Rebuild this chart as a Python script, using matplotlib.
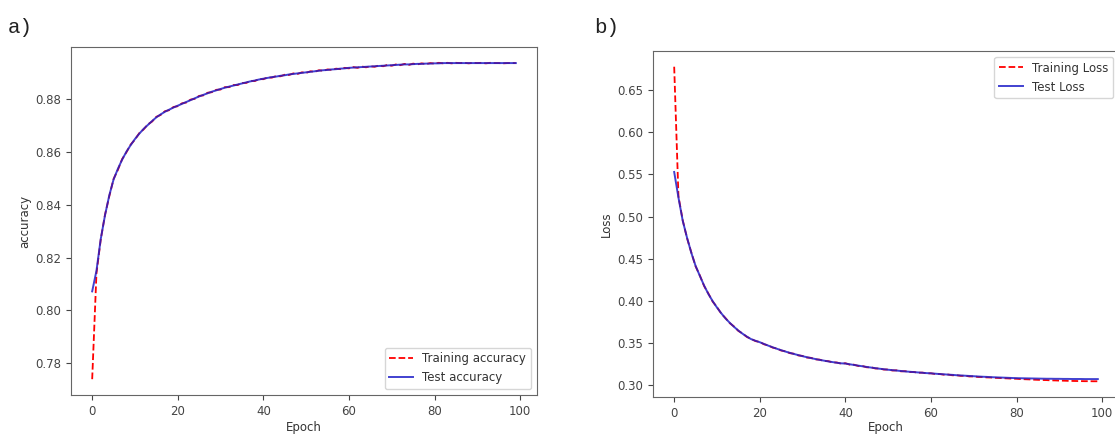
import matplotlib.pyplot as plt

# accuracy per epoch
train_acc = [0.7740, 0.8140, 0.8268, 0.8362, 0.8432, 0.8497, 0.8531, 0.8572, 0.8598, 0.8627,
             0.8646, 0.8670, 0.8684, 0.8703, 0.8714, 0.8732, 0.8739, 0.8753, 0.8757, 0.8769,
             0.8772, 0.8783, 0.8786, 0.8797, 0.8800, 0.8811, 0.8813, 0.8823, 0.8825, 0.8834,
             0.8835, 0.8844, 0.8844, 0.8852, 0.8852, 0.8860, 0.8860, 0.8868, 0.8867, 0.8875,
             0.8874, 0.8881, 0.8880, 0.8886, 0.8885, 0.8891, 0.8890, 0.8896, 0.8894, 0.8900,
             0.8898, 0.8904, 0.8902, 0.8908, 0.8906, 0.8911, 0.8909, 0.8914, 0.8912, 0.8917,
             0.8915, 0.8920, 0.8917, 0.8922, 0.8919, 0.8923, 0.8921, 0.8926, 0.8923, 0.8928,
             0.8925, 0.8930, 0.8927, 0.8932, 0.8928, 0.8933, 0.8930, 0.8934, 0.8931, 0.8935,
             0.8933, 0.8936, 0.8934, 0.8936, 0.8934, 0.8936, 0.8935, 0.8936, 0.8934, 0.8936,
             0.8935, 0.8936, 0.8934, 0.8936, 0.8935, 0.8935, 0.8934, 0.8935, 0.8935, 0.8935]
test_acc = [0.8072, 0.8150, 0.8270, 0.8360, 0.8435, 0.8495, 0.8535, 0.8570, 0.8600, 0.8625,
            0.8648, 0.8668, 0.8686, 0.8701, 0.8716, 0.8730, 0.8741, 0.8751, 0.8759, 0.8767,
            0.8774, 0.8781, 0.8788, 0.8795, 0.8802, 0.8809, 0.8815, 0.8821, 0.8827, 0.8832,
            0.8837, 0.8842, 0.8846, 0.8850, 0.8854, 0.8858, 0.8862, 0.8866, 0.8869, 0.8873,
            0.8876, 0.8879, 0.8882, 0.8884, 0.8887, 0.8889, 0.8892, 0.8894, 0.8896, 0.8898,
            0.8900, 0.8902, 0.8904, 0.8906, 0.8908, 0.8909, 0.8911, 0.8912, 0.8914, 0.8915,
            0.8917, 0.8918, 0.8919, 0.8920, 0.8921, 0.8922, 0.8923, 0.8924, 0.8925, 0.8926,
            0.8927, 0.8928, 0.8929, 0.8930, 0.8930, 0.8931, 0.8932, 0.8932, 0.8933, 0.8933,
            0.8934, 0.8934, 0.8935, 0.8935, 0.8935, 0.8935, 0.8935, 0.8935, 0.8935, 0.8935,
            0.8935, 0.8935, 0.8935, 0.8935, 0.8935, 0.8935, 0.8935, 0.8935, 0.8935, 0.8935]

# loss per epoch
train_loss = [0.6780, 0.5240, 0.4955, 0.4745, 0.4575, 0.4410, 0.4300, 0.4175, 0.4085, 0.3990,
              0.3925, 0.3848, 0.3794, 0.3734, 0.3694, 0.3642, 0.3611, 0.3570, 0.3547, 0.3521,
              0.3511, 0.3483, 0.3470, 0.3444, 0.3433, 0.3409, 0.3400, 0.3378, 0.3371, 0.3351,
              0.3345, 0.3326, 0.3322, 0.3304, 0.3301, 0.3285, 0.3283, 0.3268, 0.3267, 0.3253,
              0.3258, 0.3242, 0.3241, 0.3226, 0.3225, 0.3210, 0.3210, 0.3196, 0.3196, 0.3183,
              0.3184, 0.3172, 0.3174, 0.3162, 0.3164, 0.3153, 0.3155, 0.3145, 0.3147, 0.3137,
              0.3139, 0.3130, 0.3131, 0.3122, 0.3124, 0.3115, 0.3116, 0.3108, 0.3110, 0.3101,
              0.3102, 0.3095, 0.3095, 0.3090, 0.3089, 0.3085, 0.3083, 0.3080, 0.3078, 0.3075,
              0.3074, 0.3070, 0.3068, 0.3066, 0.3063, 0.3061, 0.3059, 0.3058, 0.3055, 0.3054,
              0.3052, 0.3051, 0.3049, 0.3048, 0.3047, 0.3046, 0.3045, 0.3045, 0.3044, 0.3044]
test_loss = [0.5530, 0.5225, 0.4950, 0.4750, 0.4570, 0.4415, 0.4296, 0.4180, 0.4080, 0.3995,
             0.3920, 0.3852, 0.3790, 0.3738, 0.3690, 0.3646, 0.3608, 0.3574, 0.3544, 0.3525,
             0.3508, 0.3487, 0.3467, 0.3448, 0.3430, 0.3413, 0.3397, 0.3382, 0.3368, 0.3355,
             0.3342, 0.3330, 0.3319, 0.3308, 0.3298, 0.3289, 0.3280, 0.3272, 0.3264, 0.3257,
             0.3255, 0.3246, 0.3238, 0.3230, 0.3222, 0.3214, 0.3207, 0.3200, 0.3193, 0.3187,
             0.3181, 0.3176, 0.3171, 0.3166, 0.3161, 0.3157, 0.3153, 0.3149, 0.3145, 0.3141,
             0.3138, 0.3134, 0.3130, 0.3127, 0.3123, 0.3120, 0.3116, 0.3113, 0.3110, 0.3107,
             0.3104, 0.3101, 0.3098, 0.3096, 0.3093, 0.3091, 0.3089, 0.3087, 0.3085, 0.3083,
             0.3081, 0.3080, 0.3079, 0.3078, 0.3077, 0.3076, 0.3075, 0.3074, 0.3074, 0.3073,
             0.3073, 0.3072, 0.3072, 0.3071, 0.3071, 0.3071, 0.3070, 0.3070, 0.3070, 0.3070]

epochs = list(range(len(test_acc)))

plt.rcParams['font.size'] = 8.5
plt.rcParams['text.color'] = '#333333'
plt.rcParams['axes.labelcolor'] = '#333333'
plt.rcParams['xtick.color'] = '#444444'
plt.rcParams['ytick.color'] = '#444444'
plt.rcParams['axes.edgecolor'] = '#666666'

fig = plt.figure(figsize=(11.15, 4.4), dpi=100)
ax1 = fig.add_axes([71 / 1115, 45 / 440, 466 / 1115, 348 / 440])
ax2 = fig.add_axes([653 / 1115, 43 / 440, 466 / 1115, 346 / 440])

# a) accuracy
ax1.plot(epochs, train_acc, 'r--', lw=1.3, label='Training accuracy')
ax1.plot(epochs, test_acc, color='#2020c8', lw=1.4, alpha=0.85, label='Test accuracy')
ax1.set_xlabel('Epoch', labelpad=2)
ax1.set_ylabel('accuracy', labelpad=3)
ax1.set_xticks([0, 20, 40, 60, 80, 100])
ax1.legend(loc='lower right', fontsize=8.5)

# b) loss
ax2.plot(epochs, train_loss, 'r--', lw=1.3, label='Training Loss')
ax2.plot(epochs, test_loss, color='#2020c8', lw=1.4, alpha=0.85, label='Test Loss')
ax2.set_xlabel('Epoch', labelpad=1)
ax2.set_ylabel('Loss', labelpad=3)
ax2.set_xticks([0, 20, 40, 60, 80, 100])
ax2.legend(loc='upper right', fontsize=8.5)

fig.text(0.007, 0.925, 'a)', fontsize=15, family='Liberation Mono', color='#222222')
fig.text(0.533, 0.925, 'b)', fontsize=15, family='Liberation Mono', color='#222222')

fig.savefig('out.png', dpi=100)
